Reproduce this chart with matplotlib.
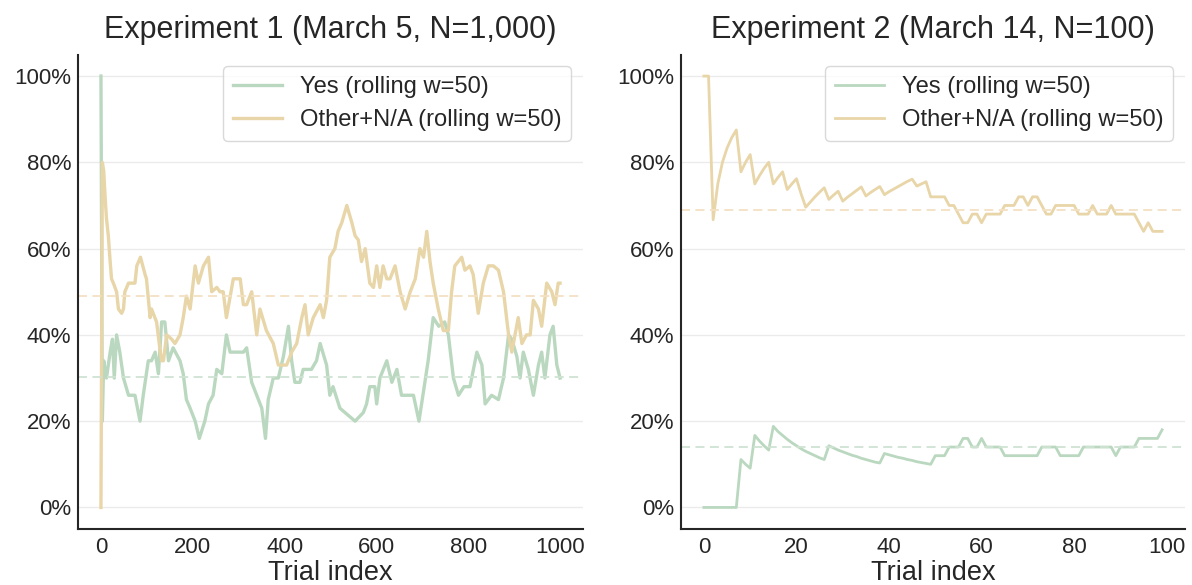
import numpy as np
import matplotlib
matplotlib.use("Agg")
import matplotlib.pyplot as plt
from matplotlib.ticker import PercentFormatter

plt.rcParams['font.family'] = ['Liberation Sans', 'DejaVu Sans']

# ---------------- Experiment 1 (N=1,000) : rolling shares in % ----------------
exp1_yes_idx = [0, 3, 6, 12, 20, 25, 29, 34, 41, 49, 60, 74, 85, 92, 103, 110, 118, 125, 132, 139,
                147, 157, 172, 179, 186, 194, 205, 214, 226, 234, 244, 252, 263, 273, 281, 295, 310,
                317, 328, 339, 350, 358, 364, 375, 386, 397, 408, 415, 422, 433, 440, 458, 469, 477,
                491, 498, 505, 520, 531, 542, 553, 571, 578, 585, 596, 600, 607, 622, 633, 644, 654,
                669, 680, 692, 702, 712, 723, 735, 748, 756, 767, 778, 790, 803, 818, 829, 836, 850,
                865, 876, 887, 894, 905, 912, 919, 930, 941, 952, 959, 966, 977, 984, 992, 999]
exp1_yes = [100, 20, 34, 30, 36, 39, 30, 40, 36, 30, 26, 26, 20, 26, 34, 34, 36, 31, 43, 43,
            34, 37, 34, 31, 25, 23, 20, 16, 20, 24, 26, 32, 31, 40, 36, 36, 36,
            37, 29, 26, 23, 16, 25, 30, 30, 35, 42, 34, 29, 29, 32, 32, 34, 38,
            33, 26, 28, 23, 22, 21, 20, 22, 24, 28, 28, 24, 30, 34, 29, 32, 26,
            26, 26, 20, 27, 34, 44, 42, 43, 40, 30, 26, 28, 28, 36, 33, 24, 26,
            25, 30, 40, 39, 35, 30, 36, 32, 26, 33, 36, 30, 40, 42, 33, 30]

exp1_other_idx = [0, 3, 6, 9, 12, 16, 20, 23, 27, 34, 38, 45, 49, 52, 60, 74, 78, 86, 96, 99, 107,
                  110, 121, 128, 132, 136, 143, 154, 161, 172, 179, 186, 194, 205, 212, 223, 234,
                  241, 252, 259, 266, 273, 288, 303, 310, 317, 328, 339, 346, 360, 375, 386, 404,
                  415, 426, 437, 444, 451, 462, 477, 484, 491, 498, 509, 516, 524, 535, 546, 553,
                  560, 567, 575, 585, 593, 600, 607, 614, 622, 629, 640, 651, 662, 673, 684, 694,
                  702, 709, 716, 723, 734, 745, 756, 763, 770, 785, 792, 803, 810, 821, 832, 843,
                  854, 865, 876, 887, 894, 901, 908, 916, 926, 934, 941, 952, 959, 970, 981, 988,
                  995, 999]
exp1_other = [0, 80, 78, 72, 67, 63, 57, 53, 52, 50, 46, 45, 46, 50, 52, 52, 56, 58, 54, 53, 44,
              46, 43, 37, 34, 34, 40, 39, 38, 40, 44, 49, 46, 56, 52, 56, 58,
              50, 51, 50, 50, 44, 53, 53, 47, 47, 50, 40, 46, 41, 38, 33, 33,
              36, 38, 44, 47, 40, 44, 47, 44, 48, 58, 60, 64, 66, 70, 66, 63,
              62, 57, 60, 52, 51, 56, 51, 56, 53, 53, 56, 50, 46, 50, 53, 60,
              58, 64, 57, 52, 46, 41, 41, 50, 56, 58, 55, 56, 54, 45, 52, 56,
              56, 55, 50, 40, 36, 40, 44, 38, 40, 40, 48, 46, 42, 52, 50, 47,
              52, 52]
exp1_mean_yes = 30.3
exp1_mean_other = 49.0

# ---------------- Experiment 2 (N=100) : rolling shares in % ----------------
exp2_yes = [0, 0, 0, 0, 0, 0, 0, 0, 11.1, 10.0,
            9.1, 16.7, 15.4, 14.3, 13.3, 18.8, 17.6, 16.7, 15.8, 15.0,
            14.3, 13.6, 13.0, 12.5, 12.0, 11.5, 11.1, 14.3, 13.8, 13.3,
            12.9, 12.5, 12.1, 11.8, 11.4, 11.1, 10.8, 10.5, 10.3, 12.5,
            12.2, 11.9, 11.6, 11.4, 11.1, 10.9, 10.6, 10.4, 10.2, 10.0,
            12, 12, 12, 14, 14, 14, 16, 16, 14, 14,
            16, 14, 14, 14, 14, 12, 12, 12, 12, 12,
            12, 12, 12, 14, 14, 14, 14, 12, 12, 12,
            12, 12, 14, 14, 14, 14, 14, 14, 14, 12,
            14, 14, 14, 14, 16, 16, 16, 16, 16, 18]
exp2_other = [100, 100, 66.7, 75, 80, 83.3, 85.7, 87.5, 77.8, 80,
              81.8, 75, 76.9, 78.6, 80, 75, 76.5, 77.8, 73.7, 75,
              76.2, 72.7, 69.6, 70.8, 72, 73.1, 74.1, 71.4, 72.4, 73.3,
              71.0, 71.9, 72.7, 73.5, 74.3, 72.2, 73.0, 73.7, 74.4, 72.5,
              73.2, 73.8, 74.4, 75.0, 75.6, 76.1, 74.5, 75.0, 75.5, 72,
              72, 72, 72, 70, 70, 68, 66, 66, 68, 68,
              66, 68, 68, 68, 68, 70, 70, 70, 72, 72,
              70, 72, 72, 70, 68, 68, 70, 70, 70, 70,
              70, 68, 68, 68, 70, 68, 68, 68, 70, 68,
              68, 68, 68, 68, 66, 64, 66, 64, 64, 64]
exp2_mean_yes = 14.0
exp2_mean_other = 69.0

titles = ["Experiment 1 (March 5, N=1,000)", "Experiment 2 (March 14, N=100)"]
legend_labels = ["Yes (rolling w=50)", "Other+N/A (rolling w=50)"]
y_ticks = [0, 0.2, 0.4, 0.6, 0.8, 1.0]

GREEN = "#bad8bf"
WHEAT = "#e8d5a8"
GREEN_D = "#cfe3d2"
WHEAT_D = "#f3e1c3"

fig = plt.figure(figsize=(11.92, 5.85), dpi=100)
ax1 = fig.add_axes([78 / 1192, 1 - 529 / 585, 505 / 1192, 474.5 / 585])
ax2 = fig.add_axes([681 / 1192, 1 - 529 / 585, 504 / 1192, 474.5 / 585])

ax1.plot(exp1_yes_idx, np.array(exp1_yes) / 100, color=GREEN, lw=2.4, label=legend_labels[0])
ax1.plot(exp1_other_idx, np.array(exp1_other) / 100, color=WHEAT, lw=2.4, label=legend_labels[1])
ax1.axhline(exp1_mean_yes / 100, color=GREEN_D, lw=1.3, ls=(0, (5, 3)))
ax1.axhline(exp1_mean_other / 100, color=WHEAT_D, lw=1.3, ls=(0, (5, 3)))

x2 = np.arange(len(exp2_yes))
ax2.plot(x2, np.array(exp2_yes) / 100, color=GREEN, lw=2, label=legend_labels[0])
ax2.plot(x2, np.array(exp2_other) / 100, color=WHEAT, lw=2, label=legend_labels[1])
ax2.axhline(exp2_mean_yes / 100, color=GREEN_D, lw=1.3, ls=(0, (5, 3)))
ax2.axhline(exp2_mean_other / 100, color=WHEAT_D, lw=1.3, ls=(0, (5, 3)))

for ax, title in zip([ax1, ax2], titles):
    ax.set_title(title, fontsize=22, color="#262626", pad=12)
    ax.set_xlabel("Trial index", fontsize=19.5, color="#262626", labelpad=1)
    ax.set_ylim(-0.05, 1.05)
    ax.set_yticks(y_ticks)
    ax.yaxis.set_major_formatter(PercentFormatter(1.0, decimals=0))
    ax.tick_params(axis="both", labelsize=16, colors="#262626", length=0)
    ax.tick_params(axis="y", pad=5)
    ax.tick_params(axis="x", pad=6)
    ax.grid(axis="y", color="#ebebeb", lw=1.0)
    ax.grid(axis="x", visible=False)
    ax.set_axisbelow(True)
    for s in ["top", "right"]:
        ax.spines[s].set_visible(False)
    for s in ["left", "bottom"]:
        ax.spines[s].set_color("#262626")
        ax.spines[s].set_linewidth(1.5)
    leg = ax.legend(loc="upper right", fontsize=17.1, frameon=True, fancybox=True,
                    handlelength=2.06, borderpad=0.4, labelspacing=0.48, handletextpad=0.77)
    leg.get_frame().set_edgecolor("#d0d0d0")
    leg.get_frame().set_linewidth(1.0)
    for t in leg.get_texts():
        t.set_color("#262626")

ax1.set_xticks([0, 200, 400, 600, 800, 1000])
ax2.set_xticks([0, 20, 40, 60, 80, 100])

fig.savefig("out.png", dpi=100)
